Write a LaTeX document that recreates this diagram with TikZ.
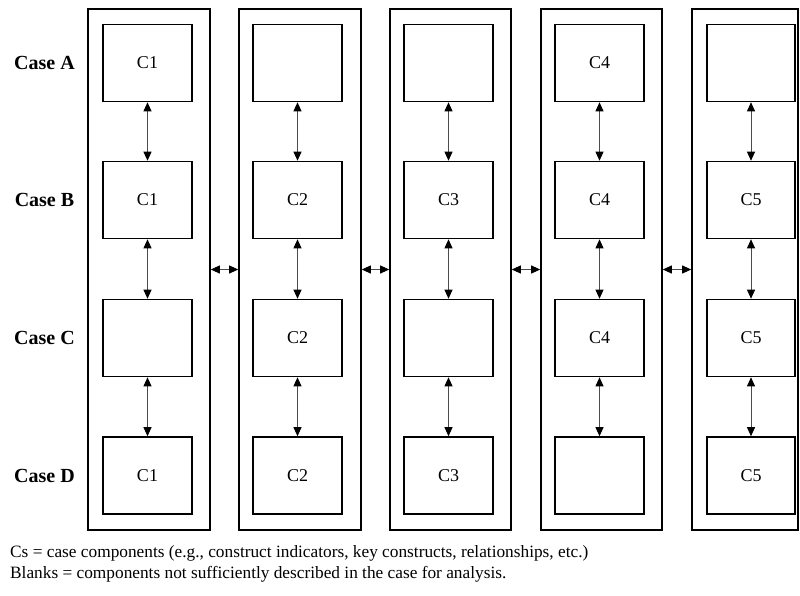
\documentclass[tikz,border=0pt]{standalone}
\usepackage{fontspec}
\setmainfont{Liberation Serif}
\usetikzlibrary{arrows.meta}
\begin{document}
\begin{tikzpicture}[x=1pt,y=-1pt,
  frame/.style={draw, line width=1.6pt, inner sep=0pt},
  comp/.style={draw, line width=1.6pt, inner sep=0pt, minimum width=89pt,
    minimum height=77pt, font=\fontsize{18}{21}\selectfont},
  link/.style={draw=black!70, line width=0.9pt,
    {Triangle[width=8pt,length=9pt,color=black]}-{Triangle[width=8pt,length=9pt,color=black]}},
  caselabel/.style={font=\bfseries\fontsize{20}{24}\selectfont},
  note/.style={font=\fontsize{17.3}{22}\selectfont, inner sep=0pt}]
\useasboundingbox (0,0) rectangle (800,595);

% column frames
\node[frame, minimum width=122pt, minimum height=521pt] (o1) at (149,269.5) {};
\node[frame, minimum width=122pt, minimum height=521pt] (o2) at (300,269.5) {};
\node[frame, minimum width=121pt, minimum height=521pt] (o3) at (450.5,269.5) {};
\node[frame, minimum width=121pt, minimum height=521pt] (o4) at (601.5,269.5) {};
\node[frame, minimum width=106pt, minimum height=521pt] (o5) at (745,269.5) {};

% case labels
\node[caselabel] (la) at (44.5,63) {Case A};
\node[caselabel] (lb) at (44.5,200) {Case B};
\node[caselabel] (lc) at (44.5,338) {Case C};
\node[caselabel] (ld) at (44.5,475.5) {Case D};

% components: row A
\node[comp] (a1) at (147.5,63) {C1};
\node[comp] (a2) at (297.5,63) {};
\node[comp] (a3) at (448.5,63) {};
\node[comp] (a4) at (599.5,63) {C4};
\node[comp, minimum width=88pt] (a5) at (751,63) {};
% row B
\node[comp] (b1) at (147.5,200) {C1};
\node[comp] (b2) at (297.5,200) {C2};
\node[comp] (b3) at (448.5,200) {C3};
\node[comp] (b4) at (599.5,200) {C4};
\node[comp, minimum width=88pt] (b5) at (751,200) {C5};
% row C
\node[comp] (c1) at (147.5,338) {};
\node[comp] (c2) at (297.5,338) {C2};
\node[comp] (c3) at (448.5,338) {};
\node[comp] (c4) at (599.5,338) {C4};
\node[comp, minimum width=88pt] (c5) at (751,338) {C5};
% row D
\node[comp] (d1) at (147.5,475.5) {C1};
\node[comp] (d2) at (297.5,475.5) {C2};
\node[comp] (d3) at (448.5,475.5) {C3};
\node[comp] (d4) at (599.5,475.5) {};
\node[comp, minimum width=88pt] (d5) at (751,475.5) {C5};

% links within each column
\foreach \c in {1,...,5}{
  \draw[link] (a\c) -- (b\c);
  \draw[link] (b\c) -- (c\c);
  \draw[link] (c\c) -- (d\c);
}
% links between columns
\draw[link] (o1.east) -- (o2.west);
\draw[link] (o2.east) -- (o3.west);
\draw[link] (o3.east) -- (o4.west);
\draw[link] (o4.east) -- (o5.west);

% legend, one node per line
\node[note, anchor=base west] (legend1) at (10,557)
  {Cs = case components (e.g., construct indicators, key constructs, relationships, etc.)};
\node[note, anchor=base west] (legend2) at (10,578.5)
  {Blanks = components not sufficiently described in the case for analysis.};
\end{tikzpicture}
\end{document}
